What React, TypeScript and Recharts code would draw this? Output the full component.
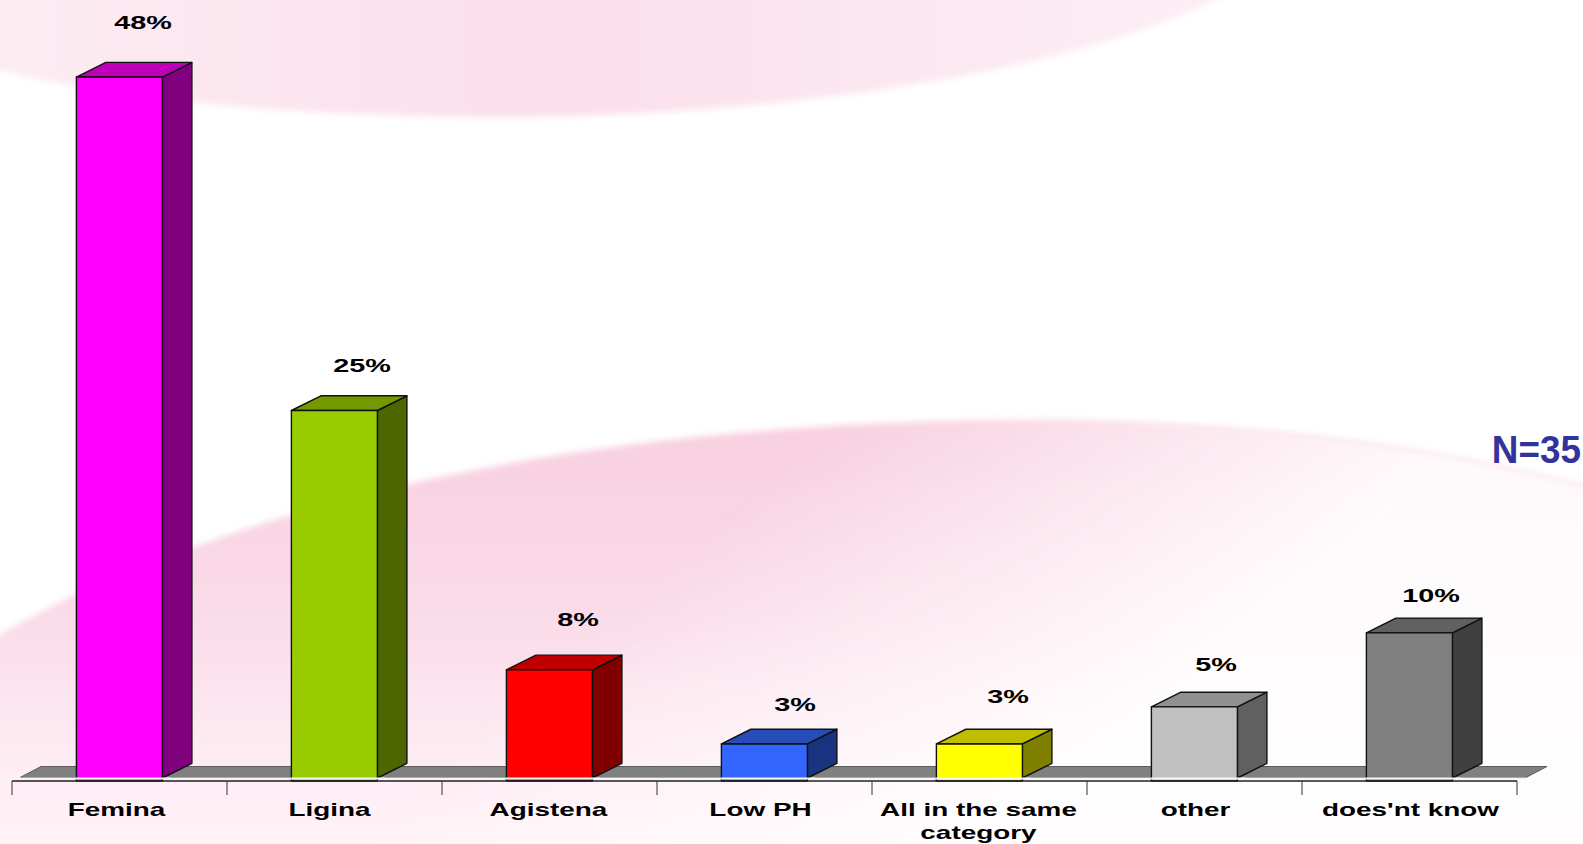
import { BarChart, Bar, XAxis, YAxis, LabelList, usePlotArea } from "recharts";

const categories = [
  "Femina",
  "Ligina",
  "Agistena",
  "Low PH",
  "All in the same category",
  "other",
  "does'nt know",
];
const shares = [47.5, 25, 7.5, 2.5, 2.5, 5, 10];

const frontColors = ["#ff00ff", "#99cc00", "#ff0000", "#3366ff", "#ffff00", "#c0c0c0", "#808080"];
const topColors = ["#bf00b8", "#739900", "#bf0000", "#264db8", "#bfbf00", "#909090", "#606060"];
const sideColors = ["#800080", "#4d6600", "#800000", "#1a3380", "#808000", "#606060", "#404040"];

// hand placed labels in the original, so they sit a little differently in each band
const labelShiftX = [23, 27, 28, 30, 28, 21, 21];
const labelShiftY = [54, 45, 50, 39, 47, 42, 37];
const tickShiftX = [-3, -5, -1, -4, -1, 1, 1];

const chartData = categories.map((name, i) => ({ name, share: shares[i] }));

const DEPTH_X = 29.5;
const DEPTH_Y = 14.7;
const BAND = 215;

function wrapLabel(text: string) {
  if (text.length <= 16) return [text];
  const cut = text.lastIndexOf(" ", 16);
  return [text.slice(0, cut), text.slice(cut + 1)];
}

function Box3D(props: any) {
  const { y, width, height, index } = props;
  const x = props.x - 0.6;
  const right = x + width;
  const bottom = y + height;
  return (
    <g stroke="#111" strokeWidth={1.4} strokeLinejoin="round">
      <path
        d={`M${right},${bottom - 3} L${right + DEPTH_X},${bottom - 3 - DEPTH_Y} L${right + DEPTH_X},${y - DEPTH_Y} L${right},${y} Z`}
        fill={sideColors[index]}
      />
      <path
        d={`M${x},${y} L${x + DEPTH_X},${y - DEPTH_Y} L${right + DEPTH_X},${y - DEPTH_Y} L${right},${y} Z`}
        fill={topColors[index]}
      />
      <rect x={x} y={y} width={width} height={height} fill={frontColors[index]} />
      {/* the pale floor edge runs across the foot of every bar */}
      <line x1={x - 1} x2={right + 8} y1={bottom - 2.5} y2={bottom - 2.5} stroke="#f6f6f6" strokeWidth={2.2} />
    </g>
  );
}

function Floor() {
  const plot = usePlotArea();
  if (!plot) return null;
  const base = plot.y + plot.height;
  const left = plot.x + 8;
  const right = plot.x + plot.width + 9;
  return (
    <g>
      <path
        d={`M${left},${base - 3.5} L${left + 21},${base - 14.5} L${right + 21},${base - 14.5} L${right},${base - 3.5} Z`}
        fill="#808080"
        stroke="#444"
        strokeWidth={0.8}
      />
      <line x1={0} x2={right} y1={base - 2.5} y2={base - 2.5} stroke="#f6f6f6" strokeWidth={2.2} />
    </g>
  );
}

function CategoryTick(props: any) {
  const { x, y, index, payload } = props;
  const lines = wrapLabel(payload.value);
  const left = x - BAND / 2;
  return (
    <g>
      <line x1={left} x2={left} y1={y - 8} y2={y + 6} stroke="#333" strokeWidth={1} />
      {index === categories.length - 1 && (
        <line x1={left + BAND} x2={left + BAND} y1={y - 8} y2={y + 6} stroke="#333" strokeWidth={1} />
      )}
      {lines.map((line, i) => (
        <text
          key={line}
          transform={`translate(${x + tickShiftX[index]},${y + 27 + i * 23}) scale(1.55,1)`}
          textAnchor="middle"
          fontFamily="Liberation Sans"
          fontWeight="bold"
          fontSize={18}
          fill="#000"
        >
          {line}
        </text>
      ))}
    </g>
  );
}

function ShareLabel(props: any) {
  const { x, y, width, value, index } = props;
  return (
    <text
      transform={`translate(${x + width / 2 + labelShiftX[index]},${y - labelShiftY[index] + 6}) scale(1.6,1)`}
      textAnchor="middle"
      fontFamily="Liberation Sans"
      fontWeight="bold"
      fontSize={18}
      fill="#000"
    >
      {Math.round(value)}%
    </text>
  );
}

const lowerOutline =
  "M-10,640 C60,600 130,565 200,545 C420,465 700,420 1040,420 C1270,422 1450,450 1600,490 L1600,860 L-10,860 Z";

function Backdrop() {
  return (
    <svg width={1583} height={844} style={{ position: "absolute", left: 0, top: 0 }}>
      <defs>
        <linearGradient id="upperSwoosh" x1="0" y1="0" x2="1" y2="0">
          <stop offset="0%" stopColor="#fdecf3" />
          <stop offset="45%" stopColor="#fbdfeb" />
          <stop offset="100%" stopColor="#fdeef5" />
        </linearGradient>
        <linearGradient id="lowerSwoosh" gradientUnits="userSpaceOnUse" x1="0" y1="420" x2="0" y2="844">
          <stop offset="0%" stopColor="#f8cfe0" />
          <stop offset="45%" stopColor="#fadbe8" />
          <stop offset="72%" stopColor="#fde8f1" />
          <stop offset="100%" stopColor="#fff3f8" />
        </linearGradient>
        <linearGradient id="lowerFade" gradientUnits="userSpaceOnUse" x1="820" y1="440" x2="1090" y2="760">
          <stop offset="0%" stopColor="#ffffff" stopOpacity={0} />
          <stop offset="100%" stopColor="#ffffff" stopOpacity={0.9} />
        </linearGradient>
        <filter id="soften">
          <feGaussianBlur stdDeviation="3" />
        </filter>
      </defs>
      <path
        d="M-10,-10 L1235,-10 C1090,70 780,118 490,117 C290,116 110,100 -10,68 Z"
        fill="url(#upperSwoosh)"
        filter="url(#soften)"
      />
      <path d={lowerOutline} fill="url(#lowerSwoosh)" filter="url(#soften)" />
      <path d={lowerOutline} fill="url(#lowerFade)" filter="url(#soften)" />
      <text
        transform="translate(1581,463) scale(0.97,1)"
        textAnchor="end"
        fontFamily="Liberation Sans"
        fontWeight="bold"
        fontSize={38}
        fill="#333399"
      >
        N=35
      </text>
    </svg>
  );
}

export default function App() {
  return (
    <div style={{ position: "relative", width: 1583, height: 844, overflow: "hidden", background: "#fff" }}>
      <style>{`body { margin: 0; }`}</style>
      <Backdrop />
      <div style={{ position: "absolute", left: 0, top: 0 }}>
        <BarChart
          width={1583}
          height={844}
          data={chartData}
          margin={{ top: 40, right: 66, bottom: 0, left: 12 }}
          barSize={86}
          style={{ overflow: "visible" }}
        >
          <Floor />
          <XAxis
            dataKey="name"
            height={63}
            interval={0}
            axisLine={{ stroke: "#222", strokeWidth: 1.4 }}
            tickLine={false}
            tick={<CategoryTick />}
          />
          <YAxis hide domain={[0, 50]} />
          <Bar dataKey="share" isAnimationActive={false} shape={<Box3D />}>
            <LabelList dataKey="share" content={<ShareLabel />} />
          </Bar>
        </BarChart>
      </div>
    </div>
  );
}
